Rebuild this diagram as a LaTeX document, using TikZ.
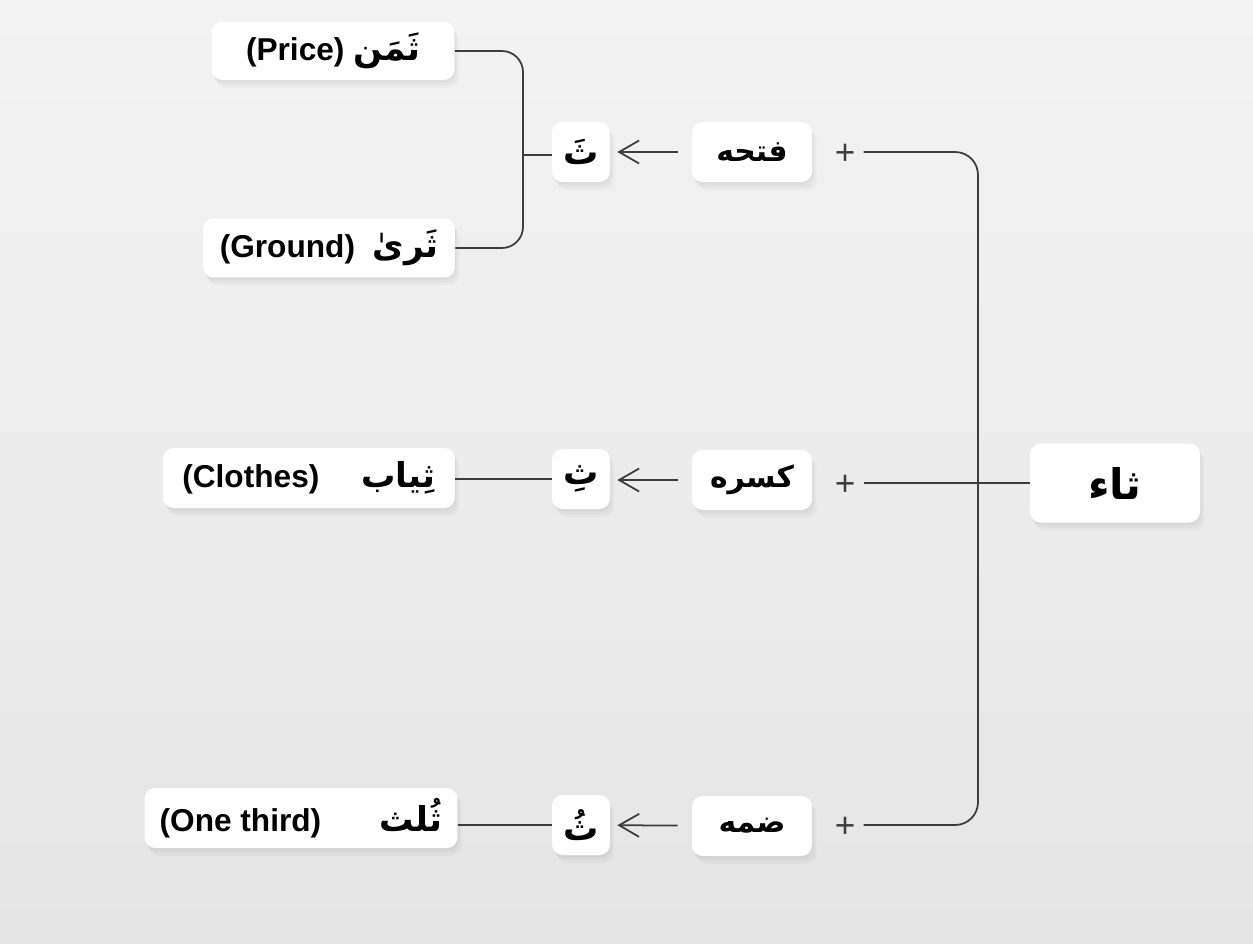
\documentclass[tikz,border=0pt]{standalone}
\usepackage{fontspec}
\setmainfont{Liberation Sans}
\newfontfamily\arabicfont[Script=Arabic]{DejaVu Sans}
\TeXXeTstate=1
\usetikzlibrary{positioning, arrows.meta, shadows}
\definecolor{BgTop}{RGB}{243,243,243}
\definecolor{BgBottom}{RGB}{229,229,229}
\definecolor{LineGray}{RGB}{60,60,60}
\newcommand{\artext}[1]{{\arabicfont\bfseries\beginR #1\endR}}
\newcommand{\wordar}[1]{{\fontsize{19.5}{24}\selectfont\artext{#1}}}

\begin{document}
\begin{tikzpicture}[x=0.02cm, y=-0.02cm,
    box/.style={fill=white, rounded corners=6pt, inner sep=0pt, minimum height=1.2cm,
      font=\fontsize{17}{20}\selectfont\bfseries,
      drop shadow={opacity=0.07, shadow xshift=0.5pt, shadow yshift=-1.5pt},
      drop shadow={opacity=0.06, shadow xshift=1.5pt, shadow yshift=-3pt},
      drop shadow={opacity=0.05, shadow xshift=2.5pt, shadow yshift=-4.5pt}},
    word/.style={box, font=\fontsize{18}{22}\selectfont\bfseries},
    plus/.style={inner sep=4.5pt, text height=14pt, text depth=0pt, text=LineGray, font=\fontsize{20}{20}\selectfont},
    conn/.style={draw=LineGray, line width=1pt},
    arr/.style={conn, -{Straight Barb[length=4mm, width=4.6mm]}, shorten <=0.28cm, shorten >=0.14cm}]
  \shade[top color=BgTop, bottom color=BgBottom] (0,0) rectangle (1253,943);

  % letter and the three vowels
  \node[box, minimum width=3.4cm, minimum height=1.58cm, font=\fontsize{24}{28}\selectfont] (thaa) at (1115,483) {\artext{ثاء}};
  \node[box, minimum width=2.4cm] (fatha) at (752,152) {\artext{فتحه}};
  \node[box, minimum width=2.4cm] (kasra) at (752,480) {\artext{کسره}};
  \node[box, minimum width=2.4cm] (damma) at (752,826) {\artext{ضمه}};
  \node[plus] (plusF) at (845,152) {+};
  \node[plus] (plusK) at (845,483) {+};
  \node[plus] (plusD) at (845,825) {+};

  % voweled letter
  \node[box, minimum width=1.16cm, font=\fontsize{20}{24}\selectfont] (fathaT) at (581,152) {\artext{ثَ}};
  \node[box, minimum width=1.16cm, font=\fontsize{20}{24}\selectfont] (kasraT) at (581,479) {\artext{ثِ}};
  \node[box, minimum width=1.16cm, font=\fontsize{20}{24}\selectfont] (dammaT) at (581,825) {\artext{ثُ}};

  % words
  \node[word, minimum width=4.86cm, minimum height=1.16cm] (price) at (333,51) {(Price)\hspace{5pt}\wordar{ثَمَن}};
  \node[word, minimum width=5.04cm, minimum height=1.18cm] (ground) at (329,248) {(Ground)\hspace{10pt}\wordar{ثَرىٰ}};
  \node[word, minimum width=5.84cm] (clothes) at (309,478) {(Clothes)\hspace{24pt}\wordar{ثِیاب}};
  \node[word, minimum width=6.26cm] (third) at (301,818) {(One third)\hspace{33pt}\wordar{ثُلث}};

  \coordinate (spine) at (978,483);
  \coordinate (brk) at (523,155);
  \draw[conn, rounded corners=13pt] (plusF) -| (spine) |- (plusD);
  \draw[conn] (plusK) -- (plusK -| thaa.west);
  \draw[arr] (fatha) -- (fathaT);
  \draw[arr] (kasra) -- (kasra -| kasraT.east);
  \draw[arr] (damma) -- (dammaT);
  \draw[conn, rounded corners=12pt] (price) -| (brk) |- (ground);
  \draw[conn] (brk) -- (brk -| fathaT.west);
  \draw[conn] (kasraT) -- (kasraT -| clothes.east);
  \draw[conn] (dammaT) -- (dammaT -| third.east);
\end{tikzpicture}
\end{document}
